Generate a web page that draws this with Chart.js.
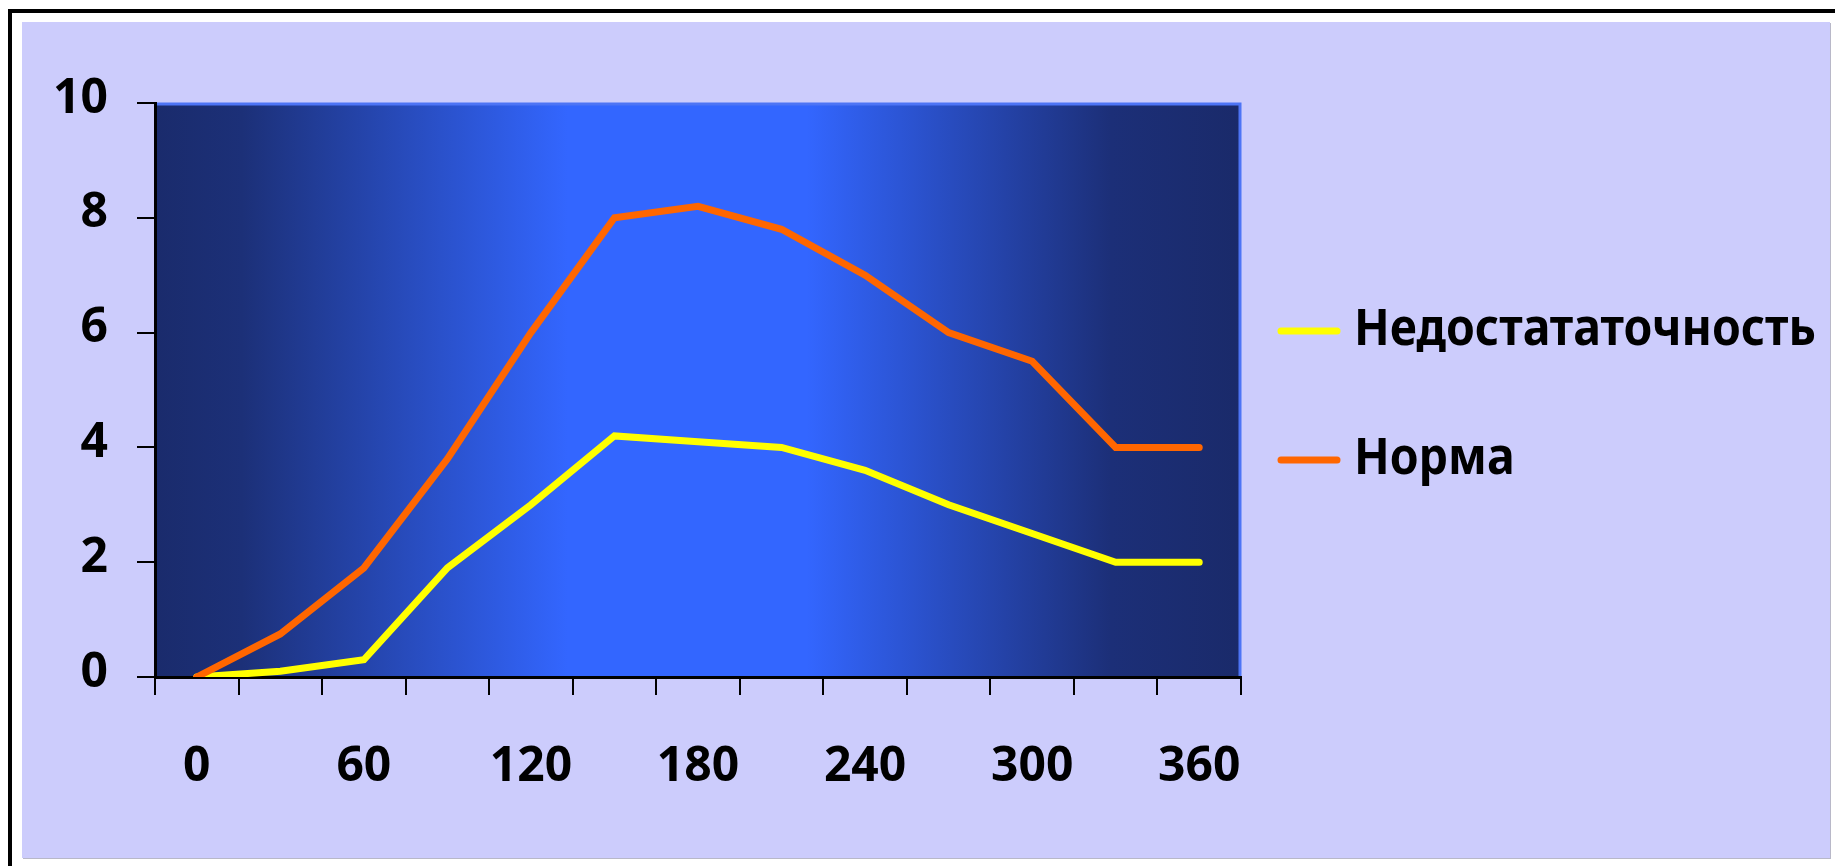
<!DOCTYPE html>
<html>
<head>
<meta charset="utf-8">
<script src="https://cdn.jsdelivr.net/npm/chart.js@4.4.1/dist/chart.umd.min.js"></script>
<style>
  html, body { margin: 0; padding: 0; background: #ffffff; overflow: hidden; }
  #frame { position: absolute; left: 8px; top: 9px; width: 1900px; height: 900px;
           border-left: 4px solid #000; border-top: 4px solid #000; }
  #box { position: absolute; left: 22px; top: 22px; width: 1808px; height: 836px;
         background: #ccccfc; box-shadow: 1px 1px 0 #b8b8c8; }
  #c { display: block; }
</style>
</head>
<body>
<div id="frame"></div>
<div id="box"><canvas id="c" width="1808" height="836"></canvas></div>
<script>
// ---- data ----
const categories = ['0','30','60','90','120','150','180','210','240','270','300','330','360'];
const seriesNames = ['Недостататочность', 'Норма'];
const insufficiency = [0, 0.1, 0.3, 1.9, 3.0, 4.2, 4.1, 4.0, 3.6, 3.0, 2.5, 2.0, 2.0];
const norm = [0, 0.75, 1.9, 3.8, 6.0, 8.0, 8.2, 7.8, 7.0, 6.0, 5.5, 4.0, 4.0];
const yTicks = [0, 2, 4, 6, 8, 10];
const seriesColors = ['#ffff00', '#ff6600'];

const FONT = '"Noto Sans", "DejaVu Sans", sans-serif';

const plotBg = {
  id: 'plotBg',
  beforeDraw(chart) {
    const {ctx, chartArea: a} = chart;
    const g = ctx.createLinearGradient(a.left, 0, a.right, 0);
    g.addColorStop(0, '#1a2b6c');
    g.addColorStop(0.08, '#1c3078');
    g.addColorStop(0.38, '#3366ff');
    g.addColorStop(0.6, '#3366ff');
    g.addColorStop(0.88, '#1c2f78');
    g.addColorStop(1, '#1a2a6a');
    ctx.save();
    ctx.fillStyle = g;
    ctx.fillRect(a.left, a.top, a.right - a.left, a.bottom - a.top);
    ctx.strokeStyle = '#4d74f5';
    ctx.lineWidth = 3;
    ctx.beginPath();
    ctx.moveTo(a.left, a.top + 1);
    ctx.lineTo(a.right - 1, a.top + 1);
    ctx.lineTo(a.right - 1, a.bottom);
    ctx.stroke();
    ctx.restore();
  }
};

const sideLegend = {
  id: 'sideLegend',
  afterDraw(chart) {
    const {ctx, chartArea: a} = chart;
    const offsets = [228, 357];
    ctx.save();
    ctx.font = 'bold 50px ' + FONT;
    const w0 = ctx.measureText(chart.data.datasets[0].label).width;
    const sx = Math.min(1, 462 / w0);
    chart.data.datasets.forEach((ds, i) => {
      const y = a.top + offsets[i];
      const x0 = a.right + 37;
      ctx.strokeStyle = ds.borderColor;
      ctx.lineWidth = 7;
      ctx.lineCap = 'round';
      ctx.beginPath();
      ctx.moveTo(x0 + 3, y);
      ctx.lineTo(x0 + 59, y);
      ctx.stroke();
      ctx.save();
      ctx.translate(a.right + 113, y);
      ctx.scale(sx, 1);
      ctx.fillStyle = '#000';
      ctx.font = 'bold 50px ' + FONT;
      ctx.textBaseline = 'middle';
      ctx.textAlign = 'left';
      ctx.fillText(ds.label, 0, 0);
      ctx.restore();
    });
    ctx.restore();
  }
};

new Chart(document.getElementById('c'), {
  type: 'line',
  data: {
    labels: categories,
    datasets: [
      { label: seriesNames[0], data: insufficiency, borderColor: seriesColors[0], backgroundColor: seriesColors[0],
        borderWidth: 7, pointRadius: 0, tension: 0, borderCapStyle: 'round', borderJoinStyle: 'miter', order: 1 },
      { label: seriesNames[1], data: norm, borderColor: seriesColors[1], backgroundColor: seriesColors[1],
        borderWidth: 7, pointRadius: 0, tension: 0, borderCapStyle: 'round', borderJoinStyle: 'miter', order: 0 }
    ]
  },
  options: {
    responsive: false,
    animation: false,
    devicePixelRatio: 1,
    layout: { padding: { left: 0, top: 81, right: 589, bottom: 0 } },
    plugins: { legend: { display: false }, tooltip: { enabled: false } },
    scales: {
      x: {
        type: 'category',
        offset: true,
        grid: { offset: true, drawOnChartArea: false, drawTicks: true, tickLength: 18, color: '#000', lineWidth: 2 },
        border: { display: true, color: '#000', width: 3 },
        ticks: {
          autoSkip: false, maxRotation: 0, minRotation: 0, padding: 44, color: '#000',
          font: { family: FONT, size: 48, weight: 'bold' },
          callback: (v, i) => (i % 2 === 0 ? categories[i] : '')
        },
        afterFit: (s) => { s.height = 181; }
      },
      y: {
        min: 0, max: 10,
        afterBuildTicks: (s) => { s.ticks = yTicks.map(v => ({ value: v })); },
        grid: { drawOnChartArea: false, drawTicks: true, tickLength: 18, color: '#000', lineWidth: 2 },
        border: { display: true, color: '#000', width: 3 },
        ticks: { padding: 29, color: '#000', labelOffset: -4,
          font: { family: FONT, size: 48, weight: 'bold' } },
        afterFit: (s) => { s.width = 133; }
      }
    }
  },
  plugins: [plotBg, sideLegend]
});
</script>
</body>
</html>
